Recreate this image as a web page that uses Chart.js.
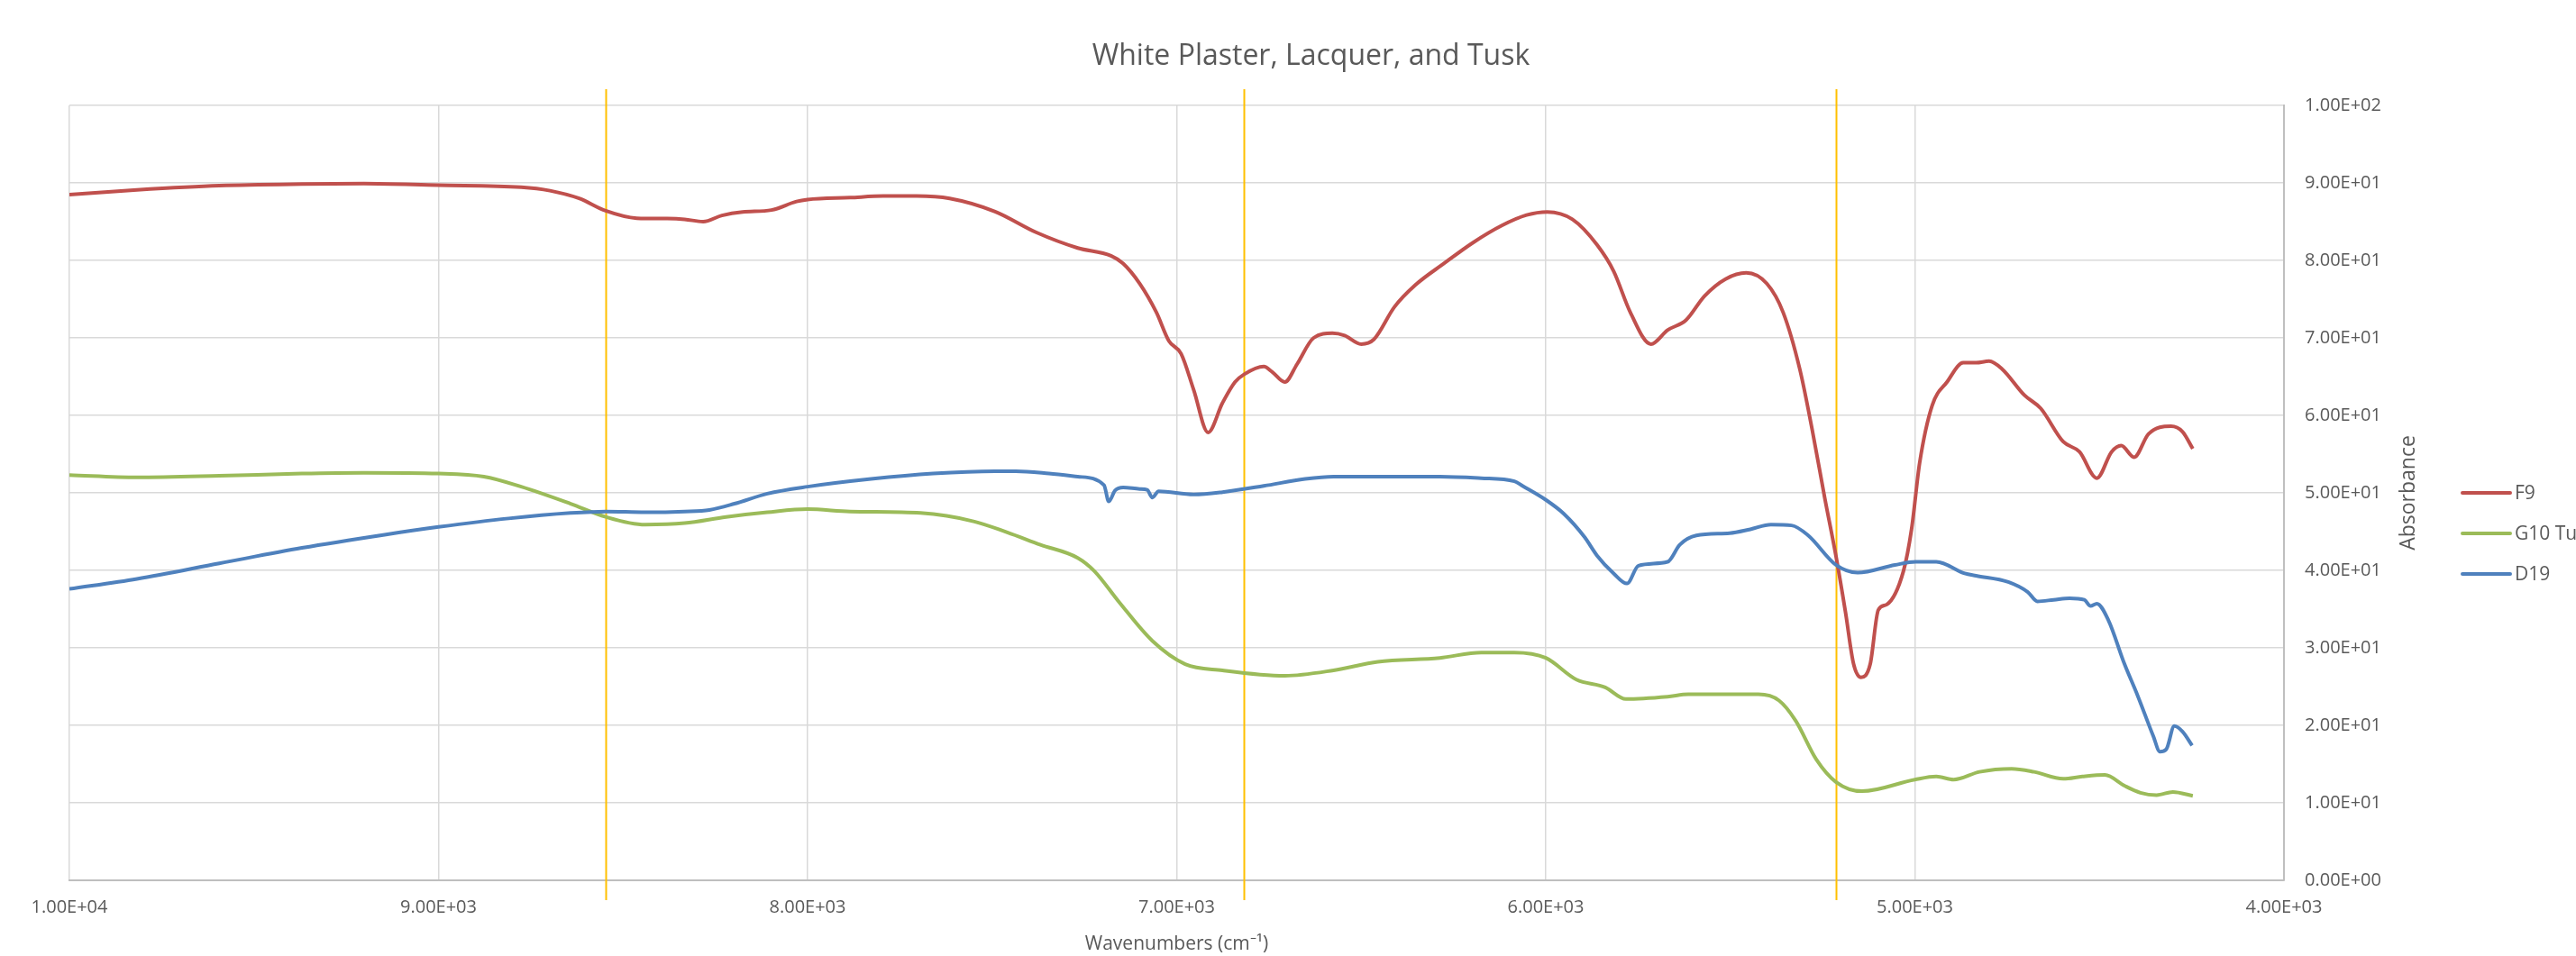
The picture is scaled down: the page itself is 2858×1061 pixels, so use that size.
<!DOCTYPE html>
<html>
<head>
<meta charset="utf-8">
<title>White Plaster, Lacquer, and Tusk</title>
<script src="https://cdn.jsdelivr.net/npm/chart.js@4.4.1/dist/chart.umd.min.js"></script>
<style>
  html, body { margin: 0; padding: 0; background: #ffffff; overflow: hidden; }
  #wrap { width: 2858px; height: 1061px; }
</style>
</head>
<body>
<div id="wrap"><canvas id="chart" width="2858" height="1061"></canvas></div>
<script>
// Spectra (wavenumber in cm-1, absorbance)
const f9Wavenumbers = [10000, 9817, 9594, 9370, 9202, 9000, 8776, 8698, 8619, 8547, 8463, 8380, 8333, 8283, 8232, 8176, 8098, 8030, 8000, 7885, 7795, 7705, 7615, 7492, 7380, 7268, 7178, 7145, 7100, 7055, 7021, 6988, 6954, 6915, 6876, 6842, 6817, 6764, 6741, 6707, 6674, 6629, 6578, 6545, 6500, 6466, 6410, 6354, 6276, 6197, 6119, 6052, 5996, 5928, 5861, 5816, 5771, 5715, 5670, 5620, 5570, 5513, 5457, 5401, 5357, 5312, 5278, 5244, 5214, 5188, 5166, 5146, 5121, 5099, 5076, 5031, 5009, 4987, 4953, 4913, 4869, 4834, 4799, 4764, 4703, 4659, 4598, 4554, 4507, 4467, 4441, 4406, 4367, 4306, 4275, 4247];
const f9Absorbance = [88.5, 89.1, 89.65, 89.85, 89.9, 89.7, 89.45, 89.0, 88.0, 86.4, 85.45, 85.4, 85.3, 85.0, 85.8, 86.25, 86.5, 87.6, 87.85, 88.1, 88.3, 88.3, 88.0, 86.3, 83.6, 81.6, 80.6, 79.6, 77.0, 73.3, 69.6, 67.95, 63.3, 57.8, 61.6, 64.3, 65.3, 66.3, 65.6, 64.3, 66.6, 70.0, 70.6, 70.3, 69.2, 69.8, 74.0, 76.8, 79.6, 82.3, 84.5, 85.85, 86.25, 85.3, 82.0, 78.6, 73.3, 69.2, 71.0, 72.3, 75.4, 77.6, 78.4, 77.0, 73.3, 66.0, 58.1, 49.3, 41.9, 34.6, 27.9, 26.2, 27.9, 34.9, 35.6, 39.9, 45.3, 53.9, 61.3, 64.3, 66.8, 66.8, 67.0, 66.0, 62.6, 60.9, 56.6, 55.3, 51.9, 55.3, 56.1, 54.6, 57.6, 58.6, 57.9, 55.7];

const g10Wavenumbers = [10000, 9817, 9594, 9370, 9202, 9000, 8877, 8776, 8642, 8547, 8440, 8333, 8221, 8109, 8000, 7885, 7694, 7548, 7459, 7369, 7268, 7223, 7156, 7066, 6977, 6876, 6707, 6575, 6455, 6287, 6175, 6085, 6000, 5917, 5839, 5783, 5670, 5614, 5424, 5368, 5323, 5267, 5214, 5143, 5000, 4942, 4895, 4825, 4738, 4677, 4598, 4546, 4485, 4432, 4389, 4345, 4301, 4247];
const g10Absorbance = [52.3, 52.0, 52.2, 52.5, 52.6, 52.5, 52.1, 50.8, 48.6, 46.9, 45.9, 46.1, 46.9, 47.5, 47.9, 47.6, 47.4, 46.3, 44.9, 43.3, 41.6, 39.9, 35.9, 30.9, 27.9, 27.1, 26.4, 27.1, 28.2, 28.7, 29.4, 29.4, 28.7, 25.9, 24.9, 23.4, 23.7, 24.0, 24.0, 23.2, 20.6, 15.6, 12.7, 11.5, 13.0, 13.4, 13.0, 14.0, 14.4, 14.0, 13.1, 13.4, 13.6, 12.2, 11.3, 11.0, 11.4, 10.9];

const d19Wavenumbers = [10000, 9817, 9594, 9370, 9146, 9000, 8810, 8642, 8547, 8440, 8333, 8266, 8198, 8109, 8000, 7828, 7660, 7492, 7436, 7346, 7268, 7197, 7184, 7167, 7145, 7100, 7080, 7066, 7049, 6954, 6876, 6764, 6652, 6575, 6455, 6287, 6175, 6085, 6063, 6000, 5951, 5895, 5861, 5816, 5780, 5749, 5670, 5637, 5592, 5502, 5446, 5390, 5334, 5289, 5214, 5155, 5054, 4998, 4942, 4865, 4834, 4747, 4694, 4668, 4624, 4581, 4541, 4524, 4507, 4476, 4432, 4397, 4354, 4336, 4319, 4297, 4275, 4249];
const d19Absorbance = [37.6, 38.9, 40.9, 42.9, 44.6, 45.6, 46.7, 47.4, 47.6, 47.5, 47.6, 47.8, 48.6, 49.9, 50.8, 51.8, 52.5, 52.8, 52.8, 52.5, 52.1, 51.0, 48.9, 50.3, 50.7, 50.5, 50.4, 49.4, 50.2, 49.8, 50.1, 50.9, 51.8, 52.1, 52.1, 52.1, 51.9, 51.5, 50.9, 49.1, 47.3, 44.3, 41.9, 39.6, 38.3, 40.6, 41.1, 43.3, 44.5, 44.8, 45.3, 45.9, 45.8, 44.5, 40.7, 39.7, 40.7, 41.1, 41.1, 39.6, 39.3, 38.5, 37.2, 36.0, 36.2, 36.4, 36.2, 35.4, 35.7, 33.6, 27.9, 23.9, 18.6, 16.6, 16.9, 19.9, 19.2, 17.4];

const seriesNames = ['F9', 'G10 Tusk', 'D19'];
const seriesColors = ['#C0504D', '#9BBB59', '#4F81BD'];

// Reference wavenumbers marked with vertical lines
const markerWavenumbers = [8547, 6818, 5214];

// Axis ticks and their labels
const xTickValues = [10000, 9000, 8000, 7000, 6000, 5000, 4000];
const xTickLabels = ['1.00E+04', '9.00E+03', '8.00E+03', '7.00E+03', '6.00E+03', '5.00E+03', '4.00E+03'];
const yTickValues = [0, 10, 20, 30, 40, 50, 60, 70, 80, 90, 100];
const yTickLabels = ['0.00E+00', '1.00E+01', '2.00E+01', '3.00E+01', '4.00E+01', '5.00E+01', '6.00E+01', '7.00E+01', '8.00E+01', '9.00E+01', '1.00E+02'];

const TEXT = '#595959';
const FONT = 'Open Sans';

function toPoints(xs, ys) {
  return xs.map((x, i) => ({ x: x, y: ys[i] }));
}

const seriesData = [
  toPoints(f9Wavenumbers, f9Absorbance),
  toPoints(g10Wavenumbers, g10Absorbance),
  toPoints(d19Wavenumbers, d19Absorbance)
];

// Vertical marker lines, running a little past the plot frame
const markerLines = {
  id: 'markerLines',
  beforeDatasetsDraw(chart) {
    const { ctx, chartArea, scales } = chart;
    ctx.save();
    ctx.strokeStyle = '#FFC000';
    ctx.lineWidth = 2;
    markerWavenumbers.forEach(w => {
      const px = Math.round(scales.x.getPixelForValue(w)) + 0.5;
      ctx.beginPath();
      ctx.moveTo(px, chartArea.top - 18);
      ctx.lineTo(px, chartArea.bottom + 22);
      ctx.stroke();
    });
    ctx.restore();
  }
};

// Y axis title (reading upward) and the series key on the right
const sideAnnotations = {
  id: 'sideAnnotations',
  afterDraw(chart) {
    const { ctx, chartArea } = chart;
    const midY = (chartArea.top + chartArea.bottom) / 2;
    ctx.save();
    ctx.fillStyle = TEXT;
    ctx.font = '23px "' + FONT + '"';
    ctx.textAlign = 'center';
    ctx.textBaseline = 'middle';
    ctx.translate(chartArea.right + 138, midY);
    ctx.rotate(-Math.PI / 2);
    ctx.fillText('Absorbance', 0, 0);
    ctx.restore();

    ctx.save();
    ctx.font = '21px "' + FONT + '"';
    ctx.textAlign = 'left';
    ctx.textBaseline = 'middle';
    const x0 = chartArea.right + 198;
    seriesNames.forEach((name, i) => {
      const y = midY + i * 45;
      ctx.strokeStyle = seriesColors[i];
      ctx.lineWidth = 4;
      ctx.lineCap = 'round';
      ctx.beginPath();
      ctx.moveTo(x0, y);
      ctx.lineTo(x0 + 53, y);
      ctx.stroke();
      ctx.fillStyle = TEXT;
      ctx.fillText(name, x0 + 58, y + 1);
    });
    ctx.restore();
  }
};

new Chart(document.getElementById('chart'), {
  type: 'line',
  data: {
    datasets: seriesData.map((pts, i) => ({
      label: seriesNames[i],
      data: pts,
      borderColor: seriesColors[i],
      backgroundColor: seriesColors[i],
      borderWidth: 4,
      pointRadius: 0,
      fill: false,
      cubicInterpolationMode: 'monotone',
      order: 2 - i
    }))
  },
  options: {
    responsive: false,
    devicePixelRatio: 1,
    animation: false,
    layout: { padding: { left: 77, top: 0, right: 26, bottom: 0 } },
    plugins: {
      legend: { display: false },
      tooltip: { enabled: false },
      title: {
        display: true,
        text: 'White Plaster, Lacquer, and Tusk',
        color: TEXT,
        font: { family: FONT, size: 32, weight: 'normal', lineHeight: 1.25 },
        padding: { top: 43, bottom: 34 }
      }
    },
    scales: {
      x: {
        type: 'linear',
        reverse: true,
        min: 4000,
        max: 10000,
        afterBuildTicks: s => { s.ticks = xTickValues.map(v => ({ value: v })); },
        afterFit: s => { s.height = 84; },
        ticks: {
          callback: v => xTickLabels[xTickValues.indexOf(v)],
          color: TEXT,
          font: { family: FONT, size: 20 },
          padding: 18,
          maxRotation: 0,
          autoSkip: false
        },
        grid: { color: '#D9D9D9', lineWidth: 1.5, drawTicks: false },
        border: { color: '#BFBFBF', width: 2 },
        title: {
          display: true,
          text: 'Wavenumbers (cm⁻¹)',
          color: TEXT,
          font: { family: FONT, size: 21 },
          padding: { top: 0, bottom: 0 }
        }
      },
      y: {
        type: 'linear',
        position: 'right',
        min: 0,
        max: 100,
        afterBuildTicks: s => { s.ticks = yTickValues.map(v => ({ value: v })); },
        afterFit: s => { s.width = 298; },
        ticks: {
          callback: v => yTickLabels[yTickValues.indexOf(v)],
          color: TEXT,
          font: { family: FONT, size: 20 },
          padding: 23
        },
        grid: { color: '#D9D9D9', lineWidth: 1.5, drawTicks: false },
        border: { color: '#BFBFBF', width: 2 }
      }
    }
  },
  plugins: [markerLines, sideAnnotations]
});
</script>
</body>
</html>
